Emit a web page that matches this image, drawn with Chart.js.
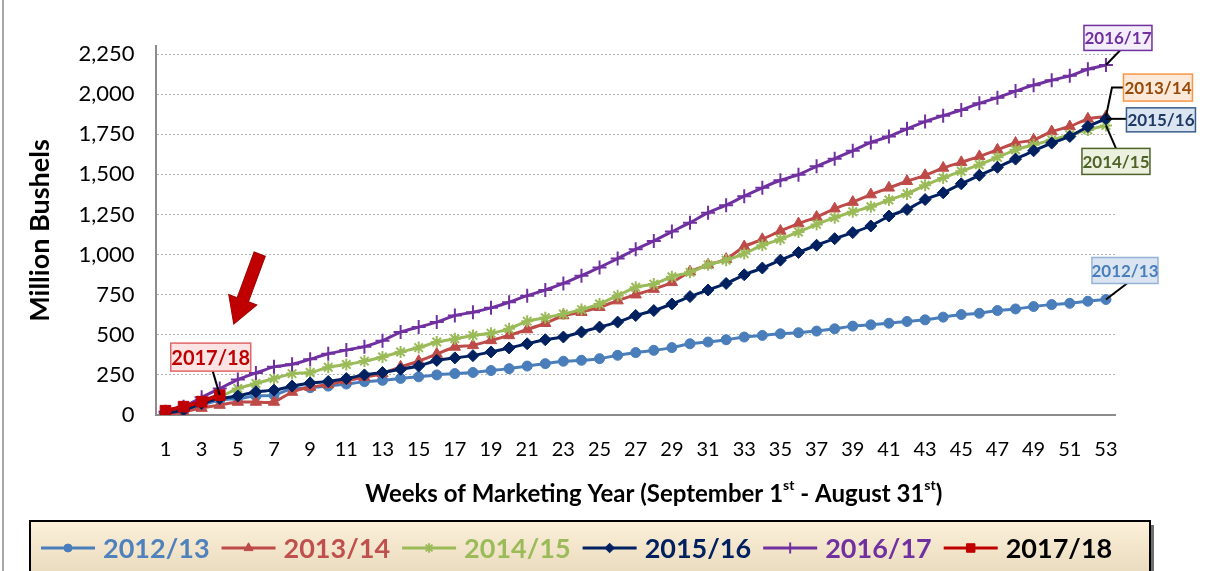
<!DOCTYPE html>
<html>
<head>
<meta charset="utf-8">
<script src="https://cdn.jsdelivr.net/npm/chart.js@4.4.1/dist/chart.umd.min.js"></script>
<style>
  body { margin: 0; background: #fff; }
  #wrap { width: 1222px; height: 571px; }
</style>
</head>
<body>
<div id="wrap"><canvas id="myChart" width="1222" height="571"></canvas></div>
<script>
const canvas = document.getElementById('myChart');
const ctx = canvas.getContext('2d');

// weeks of the marketing year
const weeks = [];
for (let i = 1; i <= 53; i++) weeks.push(String(i));

const yTicks = [0, 250, 500, 750, 1000, 1250, 1500, 1750, 2000, 2250];

const seasons = ['2012/13', '2013/14', '2014/15', '2015/16', '2016/17', '2017/18'];

// cumulative sales, million bushels
const sales1213 = [4, 31, 62, 93, 103, 118, 124, 165, 170, 180, 193, 208, 216, 228, 238, 250, 258, 265, 277, 289,
    305, 320, 335, 341, 351, 372, 389, 403, 420, 444, 455, 469, 486, 496, 506, 513, 523, 537, 554, 562,
    572, 583, 593, 610, 626, 634, 651, 661, 676, 688, 696, 709, 720];
const sales1314 = [0, 20, 43, 62, 81, 81, 81, 143, 174, 190, 215, 235, 258, 300, 335, 380, 424, 434, 465, 496,
    533, 572, 620, 641, 672, 713, 750, 785, 827, 893, 936, 971, 1050, 1095, 1147, 1193, 1234, 1286, 1327, 1374,
    1416, 1457, 1494, 1540, 1575, 1612, 1653, 1695, 1715, 1767, 1798, 1846, 1860];
const sales1415 = [14, 41, 93, 114, 165, 196, 227, 258, 265, 298, 315, 336, 362, 393, 420, 455, 475, 496, 510, 537,
    585, 606, 630, 657, 692, 744, 796, 816, 862, 889, 936, 965, 1006, 1058, 1095, 1141, 1188, 1230, 1267, 1298,
    1340, 1378, 1432, 1478, 1519, 1560, 1606, 1653, 1684, 1715, 1746, 1777, 1805];
const sales1516 = [10, 31, 72, 103, 118, 145, 155, 180, 200, 209, 227, 250, 265, 285, 305, 340, 356, 370, 393, 418,
    444, 469, 486, 517, 548, 579, 620, 651, 692, 738, 779, 820, 874, 916, 965, 1013, 1058, 1099, 1137, 1178,
    1240, 1281, 1343, 1385, 1441, 1494, 1544, 1595, 1647, 1695, 1736, 1798, 1846];
const sales1617 = [20, 52, 110, 165, 221, 262, 300, 316, 348, 382, 405, 426, 463, 517, 548, 579, 620, 641, 668, 703,
    744, 779, 820, 868, 920, 975, 1033, 1085, 1143, 1199, 1261, 1308, 1364, 1416, 1463, 1498, 1550, 1598, 1647, 1699,
    1736, 1784, 1829, 1866, 1901, 1943, 1978, 2019, 2056, 2087, 2114, 2155, 2182];
const sales1718 = [27, 52, 83, 124];

const FONT = 'Lato, "Open Sans", sans-serif';

function makeSet(label, data, color, style, radius, order, width) {
    return {
        label: label,
        data: data,
        borderColor: color,
        backgroundColor: color,
        borderWidth: width || 3,
        pointStyle: style,
        pointRadius: radius,
        pointBackgroundColor: color,
        pointBorderColor: color,
        pointBorderWidth: style === 'cross' || style === 'star' ? 2 : 1,
        tension: 0.2,
        order: order,
        fill: false
    };
}

const dataSets = [
    makeSet(seasons[0], sales1213, '#4a7ebb', 'circle', 5, 5),
    makeSet(seasons[1], sales1314, '#be4b48', 'triangle', 6.5, 4),
    makeSet(seasons[2], sales1415, '#9bbb59', 'star', 6, 3),
    makeSet(seasons[3], sales1516, '#002060', 'rectRot', 6, 1),
    makeSet(seasons[4], sales1617, '#7030a0', 'cross', 7, 2),
    makeSet(seasons[5], sales1718, '#c00000', 'rect', 7.5, 0, 4)
];

const legendText = ['#4f81bd', '#c0504d', '#9bbb59', '#002060', '#7030a0', '#000000'];

// call-out labels: dataset, point, box offset from point, box size, colours
const callouts = [
    {ds: 4, pt: 52, dx: 12, dy: -27, w: 68, h: 25, fill: '#f3eefa', line: '#7030a0', text: '#7030a0', size: 17, lead: 'bottom'},
    {ds: 1, pt: 52, dx: 52, dy: -29, w: 69, h: 27, fill: '#fde9d9', line: '#f79646', text: '#984807', size: 17, lead: 'elbow'},
    {ds: 3, pt: 52, dx: 55, dy: 1, w: 69, h: 24, fill: '#dbe5f1', line: '#385d8a', text: '#1f3864', size: 17, lead: 'left'},
    {ds: 2, pt: 52, dx: 10, dy: 36, w: 68, h: 26, fill: '#ebf1de', line: '#4f6228', text: '#4f6228', size: 17, lead: 'top'},
    {ds: 0, pt: 52, dx: 19, dy: -29, w: 66, h: 26, fill: '#dbe5f1', line: '#95b3d7', text: '#4a7ebb', size: 17, lead: 'bottom'},
    {ds: 5, pt: 3, dx: -9, dy: -38, w: 80, h: 28, fill: '#fde4e4', line: '#e06666', text: '#c00000', size: 20, lead: 'bottom'}
];

const extras = {
    id: 'extras',
    beforeDraw(chart) {
        const c = chart.ctx;
        c.save();
        c.fillStyle = '#fff';
        c.fillRect(0, 0, chart.width, chart.height);
        c.strokeStyle = '#a6a6a6';
        c.lineWidth = 2;
        c.beginPath();
        c.moveTo(3, 0);
        c.lineTo(3, chart.height);
        c.stroke();
        c.restore();
    },
    afterDraw(chart) {
        const c = chart.ctx;
        const area = chart.chartArea;
        c.save();

        // x axis title with superscripts
        const parts = [['Weeks of Marketing Year (September 1', false], ['st', true], [' - August 31', false], ['st', true], [')', false]];
        const big = 'bold 24px ' + FONT, small = 'bold 14px ' + FONT;
        let total = 0;
        parts.forEach(p => {
            c.font = p[1] ? small : big;
            total += c.measureText(p[0]).width;
        });
        let tx = (area.left + area.right) / 2 + 18 - total / 2;
        c.fillStyle = '#000';
        c.textBaseline = 'middle';
        c.textAlign = 'left';
        parts.forEach(p => {
            c.font = p[1] ? small : big;
            c.fillText(p[0], tx, p[1] ? 485 : 494);
            tx += c.measureText(p[0]).width;
        });

        // red arrow toward this season
        const p18 = chart.getDatasetMeta(5).data[3];
        const ax1 = p18.x + 40, ay1 = p18.y - 141, ax2 = p18.x + 14, ay2 = p18.y - 71;
        const ang = Math.atan2(ay2 - ay1, ax2 - ax1);
        const len = Math.hypot(ax2 - ax1, ay2 - ay1);
        c.save();
        c.translate(ax1, ay1);
        c.rotate(ang);
        c.beginPath();
        c.moveTo(0, -6);
        c.lineTo(len - 26, -6);
        c.lineTo(len - 26, -15);
        c.lineTo(len, 0);
        c.lineTo(len - 26, 15);
        c.lineTo(len - 26, 6);
        c.lineTo(0, 6);
        c.closePath();
        c.fillStyle = '#c00000';
        c.fill();
        c.strokeStyle = '#a00000';
        c.lineWidth = 1;
        c.stroke();
        c.restore();

        // call-out labels
        callouts.forEach(o => {
            const pt = chart.getDatasetMeta(o.ds).data[o.pt];
            const bx = pt.x + o.dx, by = pt.y + o.dy;
            const l = bx - o.w / 2, t = by - o.h / 2;
            c.strokeStyle = '#000';
            c.lineWidth = 2;
            c.beginPath();
            c.moveTo(pt.x, pt.y);
            if (o.lead === 'bottom') c.lineTo(bx + 2, t + o.h);
            else if (o.lead === 'top') c.lineTo(bx, t);
            else if (o.lead === 'left') c.lineTo(l, pt.y);
            else { c.lineTo(pt.x + 6, by); c.lineTo(l, by); }
            c.stroke();
            c.fillStyle = o.fill;
            c.fillRect(l, t, o.w, o.h);
            c.strokeStyle = o.line;
            c.lineWidth = 1.5;
            c.strokeRect(l, t, o.w, o.h);
            c.fillStyle = o.text;
            c.font = 'bold ' + o.size + 'px ' + FONT;
            c.textAlign = 'center';
            c.fillText(chart.data.datasets[o.ds].label, bx, by + 1);
        });

        // legend box
        const lx = 30, ly = 521, lw = 1120, lh = 60;
        c.fillStyle = '#6f6f6f';
        c.fillRect(lx + 4, ly + 4, lw, lh);
        const g = c.createLinearGradient(0, ly, 0, ly + 50);
        g.addColorStop(0, '#fcf0da');
        g.addColorStop(1, '#eadcbf');
        c.fillStyle = g;
        c.fillRect(lx, ly, lw, lh);
        c.strokeStyle = '#000';
        c.lineWidth = 2;
        c.strokeRect(lx, ly, lw, lh);

        let x = 41;
        const y = 548;
        chart.data.datasets.forEach((ds, i) => {
            c.strokeStyle = ds.borderColor;
            c.lineWidth = 3;
            c.beginPath();
            c.moveTo(x, y);
            c.lineTo(x + 54, y);
            c.stroke();
            c.fillStyle = ds.pointBackgroundColor;
            c.strokeStyle = ds.pointBorderColor;
            c.lineWidth = ds.pointBorderWidth;
            Chart.helpers.drawPoint(c, {pointStyle: ds.pointStyle, radius: ds.pointRadius * 0.8, rotation: 0, borderWidth: ds.pointBorderWidth}, x + 27, y);
            c.font = 'bold 27px ' + FONT;
            c.fillStyle = legendText[i];
            c.textAlign = 'left';
            c.fillText(ds.label, x + 62, y + 1);
            x += 62 + c.measureText(ds.label).width + 12;
        });
        c.restore();
    }
};

let chart = new Chart(ctx, {
    type: 'line',
    data: {
        labels: weeks,
        datasets: dataSets
    },
    plugins: [extras],
    options: {
        responsive: false,
        animation: false,
        layout: {
            padding: {left: 24, top: 46, right: 107, bottom: 86}
        },
        plugins: {
            legend: {display: false},
            tooltip: {enabled: false}
        },
        scales: {
            x: {
                offset: true,
                grid: {display: false, drawTicks: false},
                border: {color: '#8c8c8c', width: 2},
                ticks: {
                    autoSkip: false,
                    maxRotation: 0,
                    padding: 23,
                    color: '#000',
                    font: {family: FONT, size: 20},
                    callback: function (v, i) {
                        return i % 2 === 0 ? weeks[i] : '';
                    }
                }
            },
            y: {
                min: 0,
                max: 2300,
                afterBuildTicks: function (scale) {
                    scale.ticks = yTicks.map(v => ({value: v}));
                },
                grid: {color: '#b4b4b4', drawTicks: false},
                border: {color: '#8c8c8c', width: 2, dash: [2, 2]},
                ticks: {
                    padding: 22,
                    color: '#000',
                    font: {family: FONT, size: 22},
                    callback: function (v) {
                        return v.toLocaleString('en-US');
                    }
                },
                title: {
                    display: true,
                    text: 'Million Bushels',
                    color: '#000',
                    font: {family: FONT, size: 27, weight: 'bold'},
                    padding: {top: 0, bottom: 0}
                }
            }
        }
    }
});
</script>
</body>
</html>
